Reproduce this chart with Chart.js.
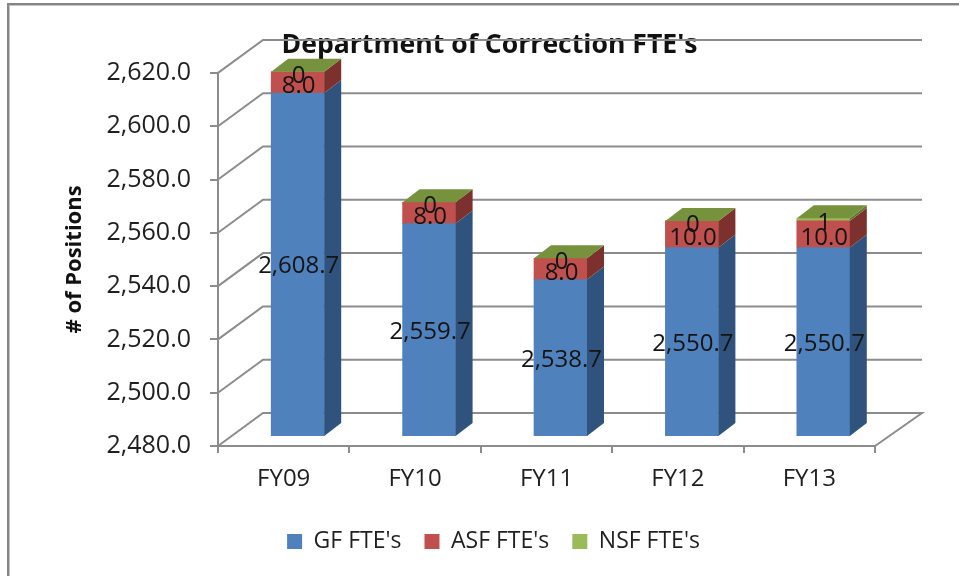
<!DOCTYPE html>
<html><head><meta charset="utf-8">
<style>
html,body{margin:0;padding:0;background:#fff;overflow:hidden}
#wrap{position:relative;width:959px;height:576px}
#frame{position:absolute;left:7px;top:3px;right:0;bottom:0;border-left:2px solid #858585;border-top:2px solid #858585;box-shadow:inset 1px 1px 0 #c4c4c4;pointer-events:none}
canvas{position:absolute;left:0;top:0}
</style>
<script src="https://cdn.jsdelivr.net/npm/chart.js@4"></script>
</head><body><div id="wrap"><canvas id="c" width="959" height="576"></canvas><div id="frame"></div></div>
<script>
const categories = ['FY09','FY10','FY11','FY12','FY13'];
const gfValues  = [2608.7,2559.7,2538.7,2550.7,2550.7];
const asfValues = [8,8,8,10,10];
const nsfValues = [0,0,0,0,1];
const seriesNames = ["GF FTE's","ASF FTE's","NSF FTE's"];
const yTicks = [2480,2500,2520,2540,2560,2580,2600,2620];
const FONT = '"Open Sans", sans-serif';
const TEXT = '#1f1f1f', LINE = '#8c8c8c';
const WALL = {dx:45, dy:-33};
const BAR_OFF = {dx:14, dy:-10};
const BAR_D = {dx:17, dy:-13};
const sideCol = ['#30537E','#7D312F','#5F7830'];
const topCol = '#76923C';

const fmt1 = v => v.toLocaleString('en-US',{minimumFractionDigits:1,maximumFractionDigits:1});

const walls = {
  id:'walls',
  afterLayout(ch){ ch.legend.left += 4; ch.legend.right += 4; },
  beforeDatasetsDraw(ch){
    const {ctx,scales:{y},chartArea:a} = ch;
    ctx.save();
    ctx.strokeStyle = LINE; ctx.lineWidth = 2; ctx.lineJoin='miter';
    yTicks.forEach(t=>{
      const py = y.getPixelForValue(t);
      ctx.beginPath();
      ctx.moveTo(a.left,py);
      ctx.lineTo(a.left+WALL.dx,py+WALL.dy);
      ctx.lineTo(a.right+WALL.dx+2,py+WALL.dy);
      if(t===yTicks[0]) ctx.lineTo(a.right,py);
      ctx.stroke();
    });
    ctx.restore();
    ctx.save();
    ctx.translate(BAR_OFF.dx,BAR_OFF.dy);
  },
  afterDatasetsDraw(ch){
    const {ctx,chartArea:a} = ch;
    const face = (pts,col)=>{
      ctx.fillStyle = col; ctx.beginPath();
      pts.forEach((p,i)=> i?ctx.lineTo(p[0],p[1]):ctx.moveTo(p[0],p[1]));
      ctx.closePath(); ctx.fill();
    };
    const {dx,dy} = BAR_D;
    ch.data.datasets.forEach((ds,di)=>{
      ch.getDatasetMeta(di).data.forEach(bar=>{
        const {x,y,base,width} = bar.getProps(['x','y','base','width'],true);
        const b = Math.min(base,a.bottom);
        const r = x+width/2, l = x-width/2;
        face([[r,y],[r+dx,y+dy],[r+dx,b+dy],[r,b]],sideCol[di]);
        if(di===ch.data.datasets.length-1)
          face([[l,y],[l+dx,y+dy],[r+dx,y+dy],[r,y]],topCol);
      });
    });
    ctx.restore();
    ctx.save();
    ctx.fillStyle = '#141414';
    ctx.font = '24px '+FONT;
    ctx.textAlign='center'; ctx.textBaseline='middle';
    ch.data.datasets.forEach((ds,di)=>{
      ch.getDatasetMeta(di).data.forEach((bar,i)=>{
        const {x,y,base} = bar.getProps(['x','y','base'],true);
        const b = Math.min(base,a.bottom);
        const v = ds.data[i];
        const s = di===2 ? String(v) : fmt1(v);
        ctx.fillText(s, x+BAR_OFF.dx+1, (y+b)/2+BAR_OFF.dy+(di===0?2:4));
      });
    });
    ctx.restore();
  }
};

new Chart(document.getElementById('c'),{
  type:'bar',
  data:{labels:categories,datasets:[
    {label:seriesNames[0],data:gfValues,backgroundColor:'#4F81BD',stack:'s'},
    {label:seriesNames[1],data:asfValues,backgroundColor:'#C0504D',stack:'s'},
    {label:seriesNames[2],data:nsfValues,backgroundColor:'#9BBB59',stack:'s'}
  ]},
  plugins:[walls],
  options:{
    responsive:false,animation:false,
    barThickness:53,
    layout:{padding:{left:20,right:0,top:0,bottom:13}},
    scales:{
      x:{stacked:true,
        grid:{drawOnChartArea:false,color:LINE,lineWidth:2,tickLength:7,offset:true},
        border:{color:LINE,width:2},
        ticks:{color:TEXT,font:{family:FONT,size:24},padding:12,maxRotation:0},
        afterFit(s){s.height=61;}
      },
      y:{stacked:true,min:2480,max:2620,
        grid:{drawOnChartArea:false,color:LINE,lineWidth:2,tickLength:8},
        border:{color:LINE,width:2},
        afterBuildTicks(s){s.ticks=yTicks.map(v=>({value:v}));},
        ticks:{color:TEXT,font:{family:FONT,size:25},padding:19,callback:v=>fmt1(v)},
        title:{display:true,text:'# of Positions',color:'#111',font:{family:FONT,size:22,weight:'bold'},padding:{top:42,bottom:0}},
        afterFit(s){s.width=198;}
      },
      yr:{position:'right',display:true,min:0,max:1,
        grid:{display:false},border:{display:false},ticks:{display:false},
        afterFit(s){s.width=84;}
      }
    },
    plugins:{
      title:{display:true,text:"Department of Correction FTE's",color:'#111',
        font:{family:FONT,size:26.6,weight:'bold'},padding:{top:29,bottom:12}},
      legend:{position:'bottom',
        labels:{color:TEXT,font:{family:FONT,size:23},boxWidth:15,boxHeight:15,padding:23}},
      tooltip:{enabled:false}
    }
  }
});
</script></body></html>
